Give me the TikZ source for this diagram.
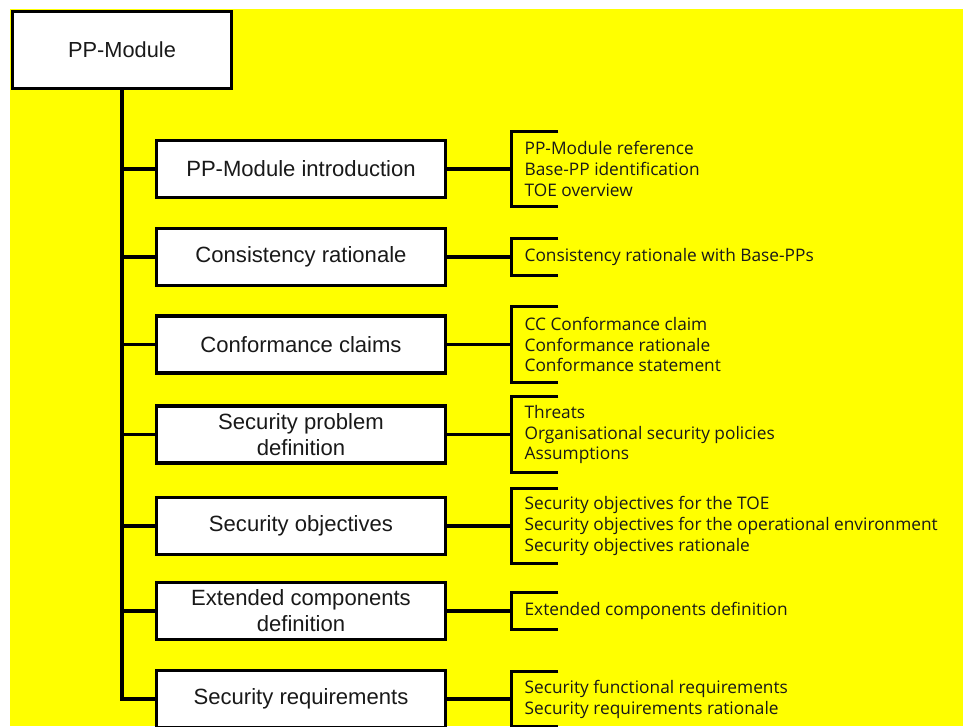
\documentclass[tikz,border=0pt]{standalone}
\usepackage{fontspec}
\setmainfont{Liberation Sans}
\newfontfamily\listfont{Open Sans}
\usetikzlibrary{positioning,calc}
\definecolor{paper}{RGB}{255,255,0}
\definecolor{ink}{RGB}{25,25,25}
\tikzset{
  topbox/.style={draw=black, line width=2.6pt, fill=white, text=ink,
              minimum width=5.475cm, minimum height=1.925cm, font=\fontsize{15.5}{18.4}\selectfont},
  secbox/.style={draw=black, line width=2.6pt, fill=white, text=ink, inner sep=2pt,
              minimum width=7.225cm, minimum height=1.425cm, align=center, font=\fontsize{15.7}{18.4}\selectfont},
  items/.style={anchor=west, inner xsep=0.325cm, inner ysep=0pt, minimum height=#1,
              align=left, text=ink, font=\listfont\fontsize{12.3}{14.9}\selectfont},
  link/.style={draw=black, line width=2.4pt},
}

\begin{document}
\begin{tikzpicture}
  \useasboundingbox (0,0) rectangle (24.075,-18.15);
  \clip (0,0) rectangle (24.075,-18.15);
  \fill[white] (0,0) rectangle (24.075,-18.15);
  \fill[paper] (0.25,-0.225) rectangle (24.075,-18.15);
  % main module and its sections
  \node[topbox] (root) at (3.05,-1.25) {PP-Module};
  \node[secbox] (intro)   at (7.525,-4.225)  {PP-Module introduction};
  \node[secbox] (consist) at (7.525,-6.425)  {Consistency rationale};
  \node[secbox] (conf)    at (7.525,-8.6125) {Conformance claims};
  \node[secbox] (spd)     at (7.525,-10.8625) {Security problem\\definition};
  \node[secbox] (obj)     at (7.525,-13.15)  {Security objectives};
  \node[secbox] (ext)     at (7.525,-15.275) {Extended components\\definition};
  \node[secbox] (req)     at (7.525,-17.475) {Security requirements};
  % contents of each section
  \node[items=1.875cm, right=1.6cm of intro]   (introL)   {PP-Module reference\\Base-PP identification\\TOE overview};
  \node[items=0.925cm, right=1.6cm of consist] (consistL) {Consistency rationale with Base-PPs};
  \node[items=1.875cm, right=1.6cm of conf]    (confL)    {CC Conformance claim\\Conformance rationale\\Conformance statement};
  \node[items=1.875cm, right=1.6cm of spd]     (spdL)     {Threats\\Organisational security policies\\Assumptions};
  \node[items=1.875cm, right=1.6cm of obj]     (objL)     {Security objectives for the TOE\\Security objectives for the operational environment\\Security objectives rationale};
  \node[items=0.925cm, right=1.6cm of ext]     (extL)     {Extended components definition};
  \node[items=1.375cm, right=1.6cm of req]     (reqL)     {Security functional requirements\\Security requirements rationale};
  % tree
  \draw[link] (root.south) |- (req.west);
  \draw[link] (root.south |- intro.west) -- (intro.west);
  \draw[link] (root.south |- consist.west) -- (consist.west);
  \draw[link] (root.south |- conf.west) -- (conf.west);
  \draw[link] (root.south |- spd.west) -- (spd.west);
  \draw[link] (root.south |- obj.west) -- (obj.west);
  \draw[link] (root.south |- ext.west) -- (ext.west);
  % brackets
  \draw[link] (intro.east) -- (introL.west);
  \draw[link] (consist.east) -- (consistL.west);
  \draw[link] (conf.east) -- (confL.west);
  \draw[link] (spd.east) -- (spdL.west);
  \draw[link] (obj.east) -- (objL.west);
  \draw[link] (ext.east) -- (extL.west);
  \draw[link] (req.east) -- (reqL.west);
  \draw[link] ($(introL.north west)+(1.175,0)$) -- (introL.north west) -- (introL.south west) -- ++(1.175,0);
  \draw[link] ($(consistL.north west)+(1.175,0)$) -- (consistL.north west) -- (consistL.south west) -- ++(1.175,0);
  \draw[link] ($(confL.north west)+(1.175,0)$) -- (confL.north west) -- (confL.south west) -- ++(1.175,0);
  \draw[link] ($(spdL.north west)+(1.175,0)$) -- (spdL.north west) -- (spdL.south west) -- ++(1.175,0);
  \draw[link] ($(objL.north west)+(1.175,0)$) -- (objL.north west) -- (objL.south west) -- ++(1.175,0);
  \draw[link] ($(extL.north west)+(1.175,0)$) -- (extL.north west) -- (extL.south west) -- ++(1.175,0);
  \draw[link] ($(reqL.north west)+(1.175,0)$) -- (reqL.north west) -- (reqL.south west) -- ++(1.175,0);
\end{tikzpicture}
\end{document}
